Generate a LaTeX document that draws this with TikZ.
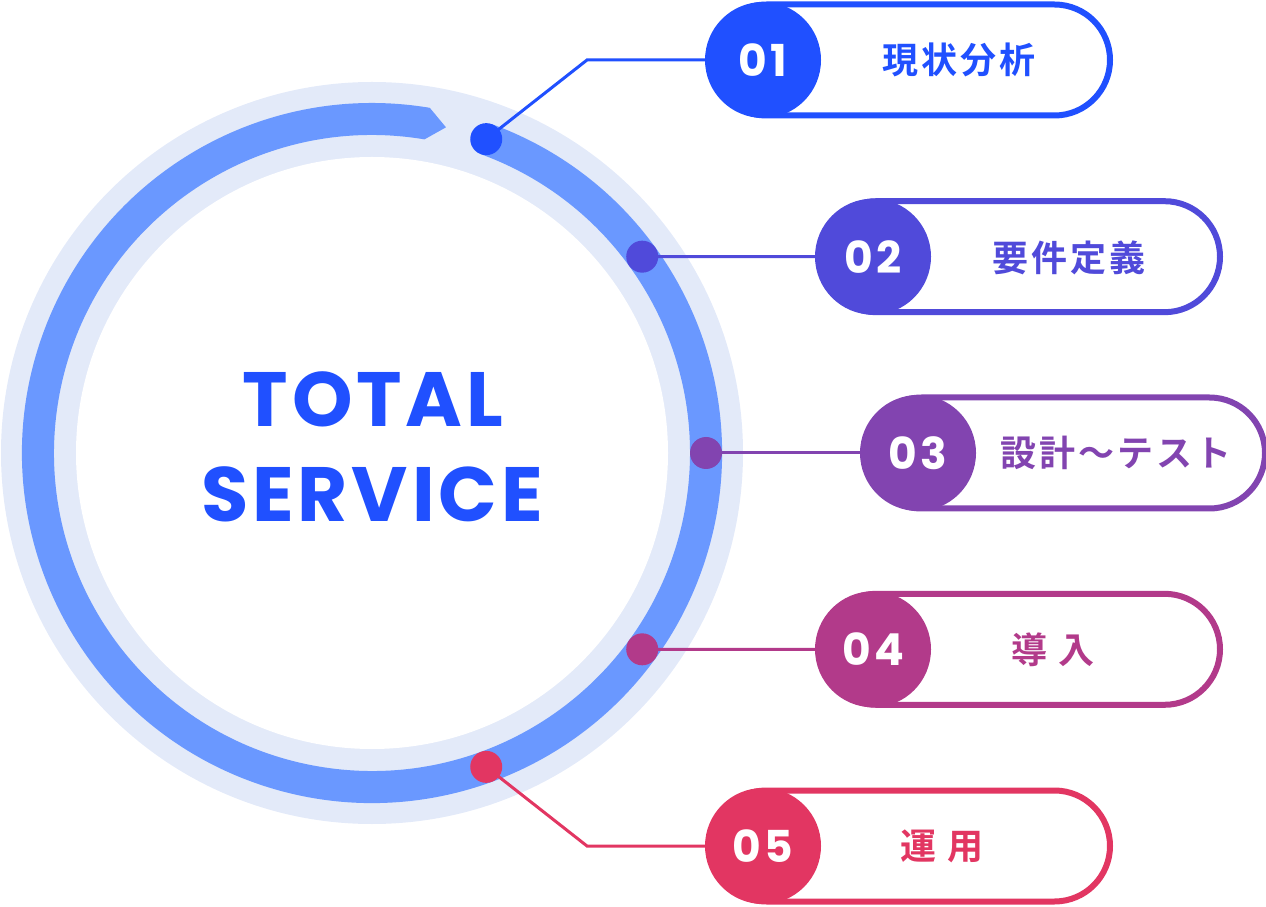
\documentclass[tikz,border=0pt]{standalone}
\usepackage{fontspec}
\usetikzlibrary{calc}
\newfontfamily\pop{Poppins}
\newfontfamily\jp{Noto Sans CJK JP Bold}
\definecolor{cA}{HTML}{2050FF}
\definecolor{cB}{HTML}{504ADA}
\definecolor{cC}{HTML}{8244B0}
\definecolor{cD}{HTML}{B23A8A}
\definecolor{cE}{HTML}{E23662}
\definecolor{ringblue}{HTML}{6A98FF}
\definecolor{ringlight}{HTML}{E3EAF9}
\pgfdeclarelayer{ring}
\pgfdeclarelayer{bg}
\pgfsetlayers{ring,bg,main}
\tikzset{
  hubdot/.style={circle, minimum size=32pt, inner sep=0pt, fill=#1},
  badge/.style={circle, minimum size=116pt, inner sep=0pt, fill=#1, text=white,
    font=\pop\bfseries\fontsize{44}{44}\selectfont\addfontfeatures{LetterSpace=8}},
  pill/.style={draw=#1, line width=6pt, fill=white, rounded corners=55.5pt,
    minimum width=399pt, minimum height=111pt, inner sep=0pt, anchor=west},
  steptext/.style={text=#1, inner sep=0pt, font=\jp\fontsize{36}{36}\selectfont\addfontfeatures{LetterSpace=8}},
  conn/.style={draw=#1, line width=3pt},
  bigtext/.style={text=cA, inner sep=0pt, font=\pop\bfseries\fontsize{77}{77}\selectfont\addfontfeatures{LetterSpace=5}},
}
\begin{document}
\begin{tikzpicture}[x=1pt,y=1pt]
\useasboundingbox (0,0) rectangle (1266,906);
\coordinate (c) at (372,453);
\begin{pgfonlayer}{ring}
  \fill[ringlight] (c) circle[radius=371pt];
  \fill[ringblue] ($(c)+(70:350pt)$) arc[start angle=70, end angle=-279.5, radius=350pt]
     -- ($(c)+(-282.8:334pt)$) -- ($(c)+(-279.5:318pt)$)
     arc[start angle=-279.5, end angle=70, radius=318pt] -- cycle;
  \fill[white] (c) circle[radius=296pt];
\end{pgfonlayer}

\node[bigtext] (t1) at (373,507) {TOTAL};
\node[bigtext] (t2) at (372,411.5) {SERVICE};

% dots
\node[hubdot=cA] (d1) at ($(c)+(70:334pt)$) {};
\node[hubdot=cB] (d2) at ($(c)+(36:334pt)$) {};
\node[hubdot=cC] (d3) at ($(c)+(0:334pt)$) {};
\node[hubdot=cD] (d4) at ($(c)+(-36:334pt)$) {};
\node[hubdot=cE] (d5) at ($(c)+(-70:334pt)$) {};

% pills
\node[pill=cA] (p1) at (708,846) {};
\node[pill=cB] (p2) at (818,649.3) {};
\node[pill=cC] (p3) at (863,453) {};
\node[pill=cD] (p4) at (818,256.7) {};
\node[pill=cE] (p5) at (708,60) {};

% badges
\node[badge=cA] (b1) at (763,846) {01};
\node[badge=cB] (b2) at (873,649.3) {02};
\node[badge=cC] (b3) at (918,453) {03};
\node[badge=cD] (b4) at (873,256.7) {04};
\node[badge=cE] (b5) at (763,60) {05};

% step texts
\node[steptext=cA] (s1) at (959,846) {現状分析};
\node[steptext=cB] (s2) at (1069,648) {要件定義};
\node[steptext=cC] (s3) at (1116,453) {設計～テスト};
\node[steptext=cD] (s4) at (1053,256.5) {導 入};
\node[steptext=cE] (s5) at (942,60) {運 用};

\coordinate (k1) at (587,846);
\coordinate (k5) at (587,60);
\begin{pgfonlayer}{bg}
  \draw[conn=cA] (d1.center) -- (k1) -- (b1.center);
  \draw[conn=cB] (d2.center) -- (b2.center);
  \draw[conn=cC] (d3.center) -- (b3.center);
  \draw[conn=cD] (d4.center) -- (b4.center);
  \draw[conn=cE] (d5.center) -- (k5) -- (b5.center);
\end{pgfonlayer}
\end{tikzpicture}
\end{document}
